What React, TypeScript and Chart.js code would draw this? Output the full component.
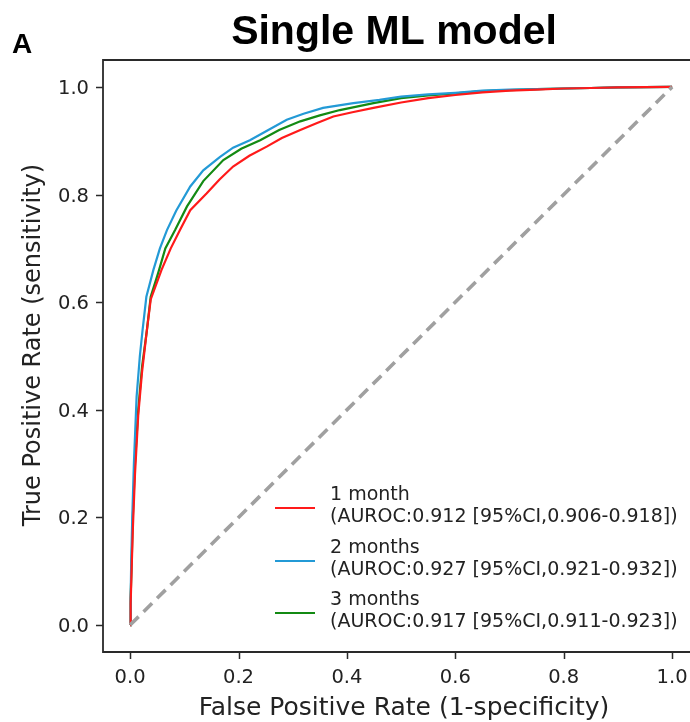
import React, { useEffect, useRef } from "react";
import { Chart, registerables } from "chart.js";

Chart.register(...registerables);

// ---- Data ----
const FPR_1M = [0, 0.001, 0.003, 0.005, 0.009, 0.015, 0.022, 0.031, 0.038, 0.058, 0.075, 0.092, 0.111, 0.141, 0.165, 0.19, 0.22, 0.252, 0.28, 0.314, 0.345, 0.375, 0.41, 0.449, 0.5, 0.55, 0.6, 0.65, 0.7, 0.75, 0.8, 0.85, 0.9, 0.95, 1.0];
const TPR_1M = [0, 0.04, 0.11, 0.177, 0.28, 0.39, 0.47, 0.548, 0.605, 0.66, 0.70, 0.734, 0.771, 0.802, 0.828, 0.852, 0.872, 0.889, 0.905, 0.92, 0.933, 0.945, 0.953, 0.961, 0.971, 0.979, 0.985, 0.99, 0.993, 0.995, 0.997, 0.998, 0.999, 0.9995, 1.0];

const FPR_2M = [0, 0.001, 0.002, 0.004, 0.007, 0.012, 0.018, 0.023, 0.03, 0.043, 0.055, 0.068, 0.085, 0.111, 0.135, 0.166, 0.19, 0.221, 0.255, 0.289, 0.32, 0.356, 0.412, 0.46, 0.5, 0.55, 0.6, 0.65, 0.7, 0.75, 0.8, 0.85, 0.9, 0.95, 1.0];
const TPR_2M = [0, 0.05, 0.115, 0.2, 0.3, 0.424, 0.5, 0.548, 0.61, 0.66, 0.70, 0.734, 0.77, 0.815, 0.845, 0.87, 0.887, 0.901, 0.92, 0.939, 0.95, 0.961, 0.97, 0.976, 0.982, 0.986, 0.989, 0.993, 0.995, 0.996, 0.997, 0.998, 0.999, 0.9995, 1.0];

const FPR_3M = [0, 0.001, 0.003, 0.005, 0.009, 0.015, 0.022, 0.031, 0.038, 0.052, 0.065, 0.083, 0.105, 0.135, 0.172, 0.205, 0.24, 0.275, 0.314, 0.35, 0.387, 0.449, 0.5, 0.55, 0.6, 0.65, 0.7, 0.75, 0.8, 0.85, 0.9, 0.95, 1.0];
const TPR_3M = [0, 0.05, 0.12, 0.2, 0.3, 0.4, 0.48, 0.548, 0.61, 0.655, 0.70, 0.734, 0.778, 0.825, 0.864, 0.885, 0.901, 0.92, 0.936, 0.947, 0.957, 0.97, 0.979, 0.984, 0.988, 0.992, 0.994, 0.996, 0.997, 0.998, 0.999, 0.9995, 1.0];

const CHANCE_X = [0, 1];
const CHANCE_Y = [0, 1];

const SERIES_NAMES = ["1 month", "2 months", "3 months"];
const SERIES_AUROC = [
  "(AUROC:0.912 [95%CI,0.906-0.918])",
  "(AUROC:0.927 [95%CI,0.921-0.932])",
  "(AUROC:0.917 [95%CI,0.911-0.923])",
];
const SERIES_COLORS = ["#ff1a1a", "#239ad6", "#138a13"];

const X_TICKS = [0, 0.2, 0.4, 0.6, 0.8, 1.0];
const Y_TICKS = [0, 0.2, 0.4, 0.6, 0.8, 1.0];
const TICK_LABELS = ["0.0", "0.2", "0.4", "0.6", "0.8", "1.0"];

const TITLE = "Single ML model";
const PANEL = "A";
const X_LABEL = "False Positive Rate (1-specificity)";
const Y_LABEL = "True Positive Rate (sensitivity)";

const pts = (xs: number[], ys: number[]) => xs.map((x, i) => ({ x, y: ys[i] }));

const DEJAVU = '"DejaVu Sans", sans-serif';
const ARIAL = '"Liberation Sans", Arial, sans-serif';
const INK = "#222222";

const decorPlugin = {
  id: "decor",
  afterDraw(chart: any) {
    const ctx = chart.ctx as CanvasRenderingContext2D;
    const { left, top, right, bottom } = chart.chartArea;
    const xs = chart.scales.x;
    const ys = chart.scales.y;
    ctx.save();

    // frame (left, top, bottom)
    ctx.strokeStyle = "#2a2a2a";
    ctx.lineWidth = 1.8;
    ctx.beginPath();
    ctx.moveTo(right + 5, top);
    ctx.lineTo(left, top);
    ctx.lineTo(left, bottom);
    ctx.lineTo(right + 5, bottom);
    ctx.stroke();

    // ticks
    ctx.lineWidth = 1.5;
    ctx.beginPath();
    X_TICKS.forEach((v) => {
      const px = Math.round(xs.getPixelForValue(v)) + 0.5;
      ctx.moveTo(px, bottom);
      ctx.lineTo(px, bottom + 7);
    });
    Y_TICKS.forEach((v) => {
      const py = Math.round(ys.getPixelForValue(v)) + 0.5;
      ctx.moveTo(left, py);
      ctx.lineTo(left - 7, py);
    });
    ctx.stroke();

    // tick labels
    ctx.fillStyle = INK;
    ctx.font = `19.5px ${DEJAVU}`;
    ctx.textBaseline = "alphabetic";
    ctx.textAlign = "center";
    X_TICKS.forEach((v, i) => {
      ctx.fillText(TICK_LABELS[i], xs.getPixelForValue(v), bottom + 31);
    });
    ctx.textAlign = "right";
    Y_TICKS.forEach((v, i) => {
      ctx.fillText(TICK_LABELS[i], left - 14, ys.getPixelForValue(v) + 7);
    });

    // axis labels
    ctx.font = `25px ${DEJAVU}`;
    ctx.textAlign = "center";
    ctx.fillText(X_LABEL, 404, 715);
    ctx.save();
    ctx.translate(40, 345);
    ctx.rotate(-Math.PI / 2);
    ctx.font = `24px ${DEJAVU}`;
    ctx.fillText(Y_LABEL, 0, 0);
    ctx.restore();

    // title and panel letter
    ctx.fillStyle = "#000";
    ctx.font = `bold 41px ${ARIAL}`;
    ctx.textAlign = "center";
    ctx.fillText(TITLE, 394, 44);
    ctx.font = `bold 28px ${ARIAL}`;
    ctx.textAlign = "left";
    ctx.fillText(PANEL, 12, 53);

    // legend
    const handleY = [508, 561, 613];
    const baseY = [500, 552.5, 605];
    ctx.font = `19px ${DEJAVU}`;
    ctx.fillStyle = INK;
    SERIES_NAMES.forEach((name, i) => {
      ctx.strokeStyle = SERIES_COLORS[i];
      ctx.lineWidth = 2;
      ctx.beginPath();
      ctx.moveTo(275, handleY[i]);
      ctx.lineTo(315, handleY[i]);
      ctx.stroke();
      ctx.fillText(name, 330, baseY[i]);
      ctx.fillText(SERIES_AUROC[i], 330, baseY[i] + 22);
    });

    ctx.restore();
  },
};

export default function App() {
  const ref = useRef<HTMLCanvasElement | null>(null);
  useEffect(() => {
    if (!ref.current) return;
    const curve = (i: number, xs: number[], ys: number[]) => ({
      label: SERIES_NAMES[i],
      data: pts(xs, ys),
      showLine: true,
      borderColor: SERIES_COLORS[i],
      backgroundColor: SERIES_COLORS[i],
      borderWidth: 2.2,
      pointRadius: 0,
      tension: 0,
      fill: false,
    });
    const chart = new Chart(ref.current, {
      type: "scatter",
      data: {
        datasets: [
          {
            label: "chance",
            data: pts(CHANCE_X, CHANCE_Y),
            showLine: true,
            borderColor: "#a0a0a0",
            borderWidth: 3.6,
            borderDash: [12, 7],
            borderCapStyle: "butt",
            pointRadius: 0,
            fill: false,
          } as any,
          curve(0, FPR_1M, TPR_1M),
          curve(1, FPR_2M, TPR_2M),
          curve(2, FPR_3M, TPR_3M),
        ],
      },
      options: {
        animation: false,
        responsive: false,
        devicePixelRatio: 1,
        layout: { padding: { left: 103, top: 60, right: 0, bottom: 70 } },
        plugins: { legend: { display: false }, tooltip: { enabled: false }, title: { display: false } },
        scales: {
          x: { type: "linear", min: -0.05, max: 1.033, display: false },
          y: { type: "linear", min: -0.05, max: 1.05, display: false },
        },
      },
      plugins: [decorPlugin],
    });
    return () => chart.destroy();
  }, []);
  return (
    <div style={{ position: "absolute", left: 0, top: 0, width: 690, height: 722, background: "#fff" }}>
      <canvas ref={ref} width={690} height={722} style={{ display: "block" }} />
    </div>
  );
}
